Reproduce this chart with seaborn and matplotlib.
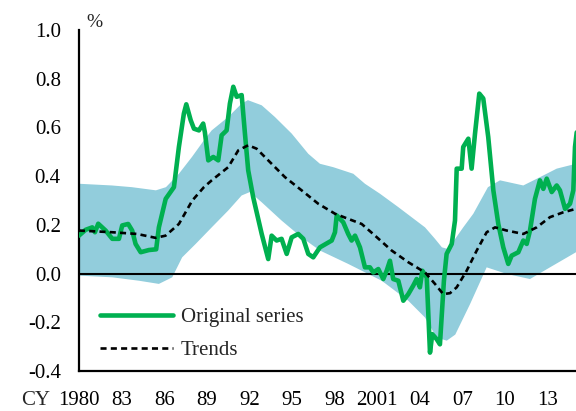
import seaborn as sns
import pandas as pd
import numpy as np
import matplotlib.pyplot as plt

# original series (year, %)
orig_year = [1980.00, 1980.47, 1980.94, 1981.13, 1981.36, 1981.88, 1982.35, 1982.82, 1983.05, 1983.47,
             1983.75, 1983.99, 1984.35, 1984.93, 1985.44, 1985.63, 1986.11, 1986.69, 1987.04, 1987.39,
             1987.56, 1987.87, 1988.10, 1988.45, 1988.75, 1988.87, 1989.11, 1989.46, 1989.81, 1990.05,
             1990.40, 1990.63, 1990.87, 1991.11, 1991.46, 1991.69, 1991.92, 1992.27, 1992.87, 1993.33,
             1993.57, 1993.92, 1994.27, 1994.63, 1994.98, 1995.44, 1995.80, 1996.15, 1996.50, 1996.97,
             1997.80, 1998.03, 1998.15, 1998.61, 1998.96, 1999.20, 1999.44, 1999.79, 2000.14, 2000.49,
             2000.73, 2001.08, 2001.43, 2001.67, 2001.90, 2002.13, 2002.49, 2002.84, 2003.19, 2003.54,
             2003.78, 2004.01, 2004.18, 2004.49, 2004.72, 2004.88, 2005.19, 2005.42, 2005.70, 2005.89,
             2006.25, 2006.48, 2006.60, 2006.95, 2007.06, 2007.42, 2007.65, 2007.89, 2008.19, 2008.47,
             2008.82, 2009.18, 2009.53, 2009.88, 2010.23, 2010.47, 2010.94, 2011.29, 2011.53, 2011.76,
             2012.11, 2012.46, 2012.70, 2012.94, 2013.29, 2013.64, 2013.87, 2014.23, 2014.58, 2014.81,
             2014.93, 2015.05]
orig_val = [0.156, 0.180, 0.190, 0.170, 0.205, 0.177, 0.143, 0.143, 0.198, 0.204,
            0.177, 0.122, 0.088, 0.097, 0.100, 0.190, 0.307, 0.355, 0.520, 0.657,
            0.695, 0.630, 0.595, 0.588, 0.616, 0.580, 0.465, 0.479, 0.465, 0.568,
            0.588, 0.698, 0.767, 0.726, 0.733, 0.575, 0.424, 0.314, 0.163, 0.060,
            0.156, 0.136, 0.143, 0.081, 0.149, 0.163, 0.143, 0.081, 0.067, 0.108,
            0.136, 0.170, 0.239, 0.211, 0.163, 0.136, 0.156, 0.108, 0.026, 0.026,
            0.005, 0.019, -0.022, 0.012, 0.053, -0.022, -0.029, -0.111, -0.084, -0.049,
            -0.022, -0.056, 0.012, -0.015, -0.324, -0.248, -0.269, -0.290, -0.029, 0.081,
            0.122, 0.218, 0.431, 0.431, 0.520, 0.554, 0.431, 0.575, 0.739, 0.719,
            0.561, 0.342, 0.204, 0.108, 0.040, 0.074, 0.088, 0.136, 0.122, 0.177,
            0.307, 0.383, 0.348, 0.390, 0.335, 0.362, 0.342, 0.266, 0.287, 0.342,
            0.520, 0.580]

# trend
trend_year = [1980.0, 1982.35, 1984.1, 1985.4, 1986.1, 1987.04, 1987.98, 1988.8, 1989.35, 1990.51,
              1991.22, 1991.92, 1992.51, 1993.33, 1994.51, 1995.68, 1996.85, 1998.03, 1998.96, 1999.91,
              2000.85, 2002.02, 2003.19, 2004.37, 2005.07, 2005.65, 2006.13, 2006.6, 2007.3, 2008.01,
              2008.71, 2009.3, 2010.12, 2011.29, 2012.23, 2013.17, 2014.11, 2015.0]
trend_val = [0.177, 0.170, 0.163, 0.147, 0.156, 0.204, 0.300, 0.355, 0.383, 0.437,
             0.506, 0.527, 0.513, 0.465, 0.396, 0.342, 0.287, 0.246, 0.225, 0.204,
             0.156, 0.095, 0.047, 0.005, -0.042, -0.084, -0.080, -0.056, 0.012, 0.095,
             0.170, 0.190, 0.177, 0.163, 0.190, 0.232, 0.252, 0.266]

# band upper / lower edges
upper_year = [1980.0, 1982.32, 1983.73, 1985.42, 1986.13, 1987.04, 1987.96, 1988.8, 1989.35, 1990.51,
              1991.46, 1991.9, 1992.87, 1993.8, 1994.98, 1996.15, 1996.97, 1997.91, 1999.32, 2000.14,
              2001.2, 2002.49, 2004.37, 2005.07, 2005.56, 2005.99, 2007.06, 2007.77, 2008.8, 2009.65,
              2011.29, 2012.46, 2013.64, 2015.0]
upper_val = [0.369, 0.362, 0.355, 0.342, 0.355, 0.410, 0.479, 0.547, 0.588, 0.643,
             0.698, 0.712, 0.691, 0.643, 0.575, 0.492, 0.451, 0.437, 0.410, 0.369,
             0.328, 0.273, 0.190, 0.143, 0.108, 0.101, 0.190, 0.246, 0.355, 0.383,
             0.362, 0.396, 0.431, 0.451]
lower_year = [1980.0, 1982.35, 1984.23, 1985.63, 1986.57, 1987.27, 1988.22, 1989.35, 1990.51, 1991.46,
              1992.04, 1992.87, 1994.27, 1995.68, 1996.97, 1998.96, 2001.32, 2003.19, 2004.37, 2005.19,
              2005.9, 2006.5, 2007.54, 2008.71, 2010.12, 2011.76, 2013.17, 2015.0]
lower_val = [-0.008, -0.015, -0.029, -0.042, -0.015, 0.067, 0.122, 0.190, 0.259, 0.321,
             0.335, 0.293, 0.218, 0.149, 0.095, 0.040, -0.029, -0.111, -0.180, -0.262,
             -0.275, -0.250, -0.125, 0.026, -0.001, -0.022, 0.026, 0.088]

tick_years = [1980, 1983, 1986, 1989, 1992, 1995, 1998, 2001, 2004, 2007, 2010, 2013]
tick_labels = ['1980', '83', '86', '89', '92', '95', '98', '2001', '04', '07', '10', '13']

sns.set_style("white")
plt.rcParams['font.family'] = ['Liberation Serif', 'DejaVu Serif']
plt.rcParams['font.size'] = 15

fig = plt.figure(figsize=(5.76, 4.11), dpi=100)
ax = fig.add_axes([0.137, 0.097, 0.863, 0.830])

# band
band_x = np.concatenate([upper_year, lower_year[::-1]])
band_y = np.concatenate([upper_val, lower_val[::-1]])
ax.fill(band_x, band_y, color='#92CDDC', lw=0, zorder=1)

ax.axhline(0, color='black', lw=1.5, zorder=2)

orig = pd.DataFrame({'year': orig_year, 'value': orig_val})
trend = pd.DataFrame({'year': trend_year, 'value': trend_val})
sns.lineplot(data=orig, x='year', y='value', ax=ax, color='#00B050', lw=3.3,
             label='Original series', zorder=3)
sns.lineplot(data=trend, x='year', y='value', ax=ax, color='black', lw=1.9,
             label='Trends', zorder=4)
ax.lines[-1].set_dashes((2.3, 1.6))

ax.set_xlim(1980, 2015)
ax.set_ylim(-0.4, 1.0)
ax.set_yticks(np.arange(-0.4, 1.01, 0.2))
ax.set_yticklabels([f'{v:.1f}' for v in np.arange(-0.4, 1.01, 0.2)])
ax.set_xticks(tick_years)
ax.set_xticklabels(tick_labels)
ax.set_xlabel('')
ax.set_ylabel('')

for s in ['top', 'right']:
    ax.spines[s].set_visible(False)
for s in ['left', 'bottom']:
    ax.spines[s].set_linewidth(1.6)
    ax.spines[s].set_color('black')
ax.tick_params(axis='y', direction='in', length=4.5, width=1.3, pad=13, colors='black')
ax.tick_params(axis='x', direction='out', length=4, width=1.3, pad=10, colors='black')

ax.annotate('CY', xy=(1980, 0), xycoords=('data', 'axes fraction'),
            xytext=(-21, -14), textcoords='offset points', ha='right', va='top')

ax.text(0.032, 0.996, '%', transform=ax.transAxes, ha='center', va='bottom', fontsize=14)

leg = ax.legend(loc='upper left', bbox_to_anchor=(0.042, 0.187), frameon=False,
                handlelength=3.5, handletextpad=0.4, labelspacing=0.65,
                borderpad=0, borderaxespad=0)

plt.savefig('out.png', dpi=100)
